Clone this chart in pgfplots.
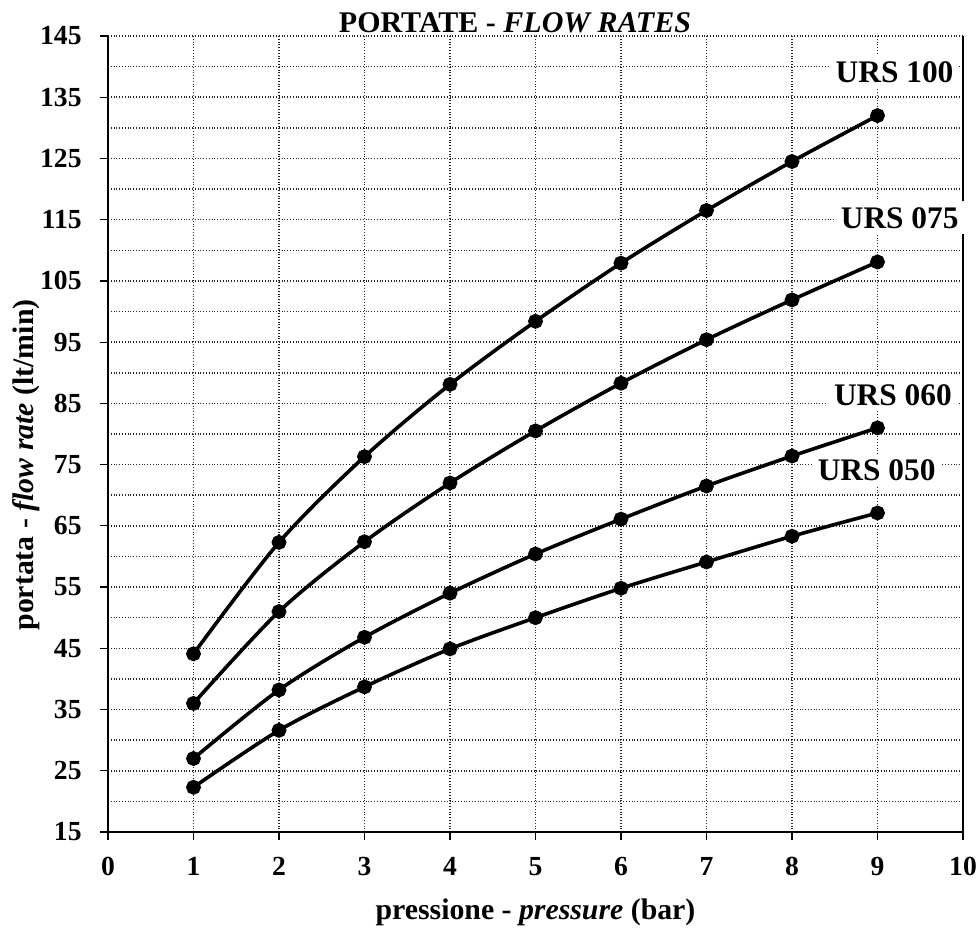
\documentclass[border=0pt]{standalone}
\usepackage{fontspec}
\setmainfont{Liberation Serif}
\usepackage{pgfplots}
\pgfplotsset{compat=1.18}
\begin{document}
\begin{tikzpicture}
\path[use as bounding box] (-54pt,-48.5pt) rectangle (435.5pt,416pt);
\begin{axis}[
  at={(0,0)}, anchor=south west,
  scale only axis,
  width=427.5pt, height=398pt,
  xmin=0, xmax=10, ymin=15, ymax=145,
  xtick={0,1,...,10},
  ytick={15,25,...,145},
  minor ytick={20,30,...,140},
  grid=both,
  major grid style={densely dotted, black!85, line width=0.75pt},
  minor grid style={densely dotted, black!85, line width=0.75pt},
  axis x line*=bottom,
  axis y line*=box,
  ytick pos=left,
  axis line style={black, line width=0.9pt},
  tick align=outside,
  major tick length=4pt,
  minor tick length=0pt,
  tick style={black, line width=0.6pt},
  /pgf/number format/assume math mode=true,
  ticklabel style={font=\fontsize{13.8}{16}\selectfont\bfseries},
  xticklabel style={anchor=north, inner sep=0pt, yshift=-8.5pt},
  yticklabel style={anchor=east, inner sep=0pt, xshift=-9pt},
  xlabel={pressione - \textit{pressure} (bar)},
  ylabel={portata - \textit{flow rate} (lt/min)},
  xlabel style={font=\fontsize{14.9}{17}\selectfont\bfseries, at={(axis description cs:0.5,0)}, anchor=base, yshift=-44pt},
  ylabel style={font=\fontsize{14.9}{17}\selectfont\bfseries, at={(axis description cs:0,0.461)}, anchor=center, yshift=41pt},
  clip=false,
]
\addplot[black, line width=1.8pt, smooth, mark=*, mark size=2.8pt] coordinates {
(1,44.1) (2,62.3) (3,76.3) (4,88.1) (5,98.4) (6,107.9) (7,116.5) (8,124.5) (9,132.0)};
\addplot[black, line width=1.8pt, smooth, mark=*, mark size=2.8pt] coordinates {
(1,36.0) (2,51.0) (3,62.4) (4,72.0) (5,80.5) (6,88.3) (7,95.4) (8,101.9) (9,108.1)};
\addplot[black, line width=1.8pt, smooth, mark=*, mark size=2.8pt] coordinates {
(1,27.0) (2,38.2) (3,46.8) (4,54.0) (5,60.4) (6,66.1) (7,71.5) (8,76.4) (9,81.0)};
\addplot[black, line width=1.8pt, smooth, mark=*, mark size=2.8pt] coordinates {
(1,22.3) (2,31.6) (3,38.7) (4,44.9) (5,50.0) (6,54.8) (7,59.1) (8,63.3) (9,67.1)};
\begin{scope}[every node/.style={fill=white, inner sep=3pt, font=\fontsize{15.7}{18}\selectfont\bfseries}]
\node at (axis cs:9.2,139.1) {URS 100};
\node at (axis cs:9.26,115.3) {URS 075};
\node at (axis cs:9.18,86.4) {URS 060};
\node at (axis cs:8.99,74.1) {URS 050};
\end{scope}
\node[anchor=base, inner sep=0pt, font=\fontsize{15}{17}\selectfont\bfseries] at (rel axis cs:0.476,1) [yshift=1.5pt] {PORTATE - \textit{FLOW RATES}};
\end{axis}
\end{tikzpicture}
\end{document}
